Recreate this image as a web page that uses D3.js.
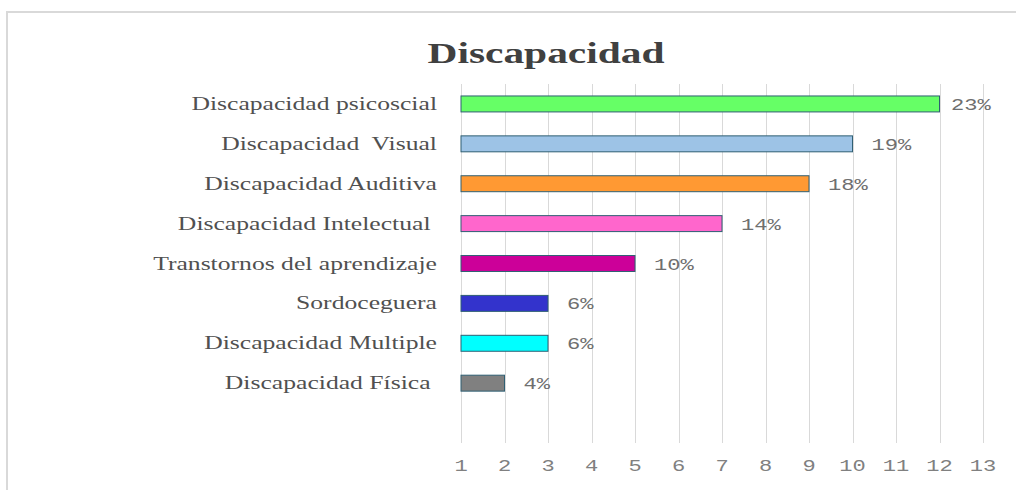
<!DOCTYPE html>
<html>
<head>
<meta charset="utf-8" />
<script src="https://d3js.org/d3.v7.min.js"></script>
<style>
  body { margin: 0; background: #fff; }
  text { white-space: pre; }
</style>
</head>
<body>
<div id="chart"></div>
<script>
  // data
  const categories = [
    "Discapacidad psicoscial",
    "Discapacidad  Visual",
    "Discapacidad Auditiva",
    "Discapacidad Intelectual ",
    "Transtornos del aprendizaje",
    "Sordoceguera",
    "Discapacidad Multiple",
    "Discapacidad Física "
  ];
  const values = [12, 10, 9, 7, 5, 3, 3, 2];
  const percentLabels = ["23%", "19%", "18%", "14%", "10%", "6%", "6%", "4%"];
  const colors = ["#66ff66", "#9dc3e6", "#ff9933", "#ff66cc", "#cc0099", "#3333cc", "#00ffff", "#808080"];
  const ticks = [1, 2, 3, 4, 5, 6, 7, 8, 9, 10, 11, 12, 13];

  const width = 1016, height = 490;
  const stretch = 1.35; // the picture's text looks stretched sideways

  const svg = d3.select("#chart").append("svg")
    .attr("width", width)
    .attr("height", height);

  // chart frame
  svg.append("rect")
    .attr("x", 7).attr("y", 12)
    .attr("width", width + 10).attr("height", height)
    .attr("fill", "none")
    .attr("stroke", "#d9d9d9")
    .attr("stroke-width", 2);

  const x = d3.scaleLinear().domain([1, 13]).range([461, 983]);
  const plotTop = 84, plotBottom = 443;
  const y = d3.scaleBand()
    .domain(categories)
    .range([plotTop, plotTop + (plotBottom - plotTop) * 8 / 9])
    .paddingInner(0.6)
    .paddingOuter(0.3);

  // gridlines
  svg.append("g")
    .selectAll("line")
    .data(ticks)
    .join("line")
      .attr("x1", d => Math.round(x(d)) + 0.5)
      .attr("x2", d => Math.round(x(d)) + 0.5)
      .attr("y1", plotTop)
      .attr("y2", plotBottom)
      .attr("stroke", "#d9d9d9")
      .attr("stroke-width", 1);

  // tick labels
  svg.append("g")
    .selectAll("text")
    .data(ticks)
    .join("text")
      .attr("transform", d => `translate(${x(d)},471) scale(1.3,1)`)
      .attr("text-anchor", "middle")
      .style("font-family", "'Liberation Mono', 'DejaVu Sans Mono', monospace")
      .style("font-size", "17px")
      .style("fill", "#808080")
      .text(d => d);

  const rows = categories.map((c, i) => ({ name: c, value: values[i], label: percentLabels[i], color: colors[i] }));

  // bars
  svg.append("g")
    .selectAll("rect")
    .data(rows)
    .join("rect")
      .attr("x", x(1))
      .attr("y", d => y(d.name))
      .attr("width", d => x(d.value) - x(1))
      .attr("height", y.bandwidth())
      .attr("fill", d => d.color)
      .attr("stroke", "#2f5f73")
      .attr("stroke-width", 1);

  // category labels
  svg.append("g")
    .selectAll("text")
    .data(rows)
    .join("text")
      .attr("transform", d => `translate(437,${y(d.name) + y.bandwidth() / 2 + 6}) scale(${stretch},1)`)
      .attr("text-anchor", "end")
      .style("font-family", "'Liberation Serif', 'Times New Roman', serif")
      .style("font-size", "19px")
      .style("fill", "#505050")
      .text(d => d.name);

  // value labels (pulled in near the right edge)
  svg.append("g")
    .selectAll("text")
    .data(rows)
    .join("text")
      .attr("transform", d => `translate(${Math.min(x(d.value) + 19, 951)},${y(d.name) + y.bandwidth() / 2 + 6}) scale(1.3,1)`)
      .style("font-family", "'Liberation Mono', 'DejaVu Sans Mono', monospace")
      .style("font-size", "17px")
      .style("fill", "#6f6f6f")
      .text(d => d.label);

  // title
  svg.append("text")
    .attr("transform", `translate(546,63) scale(1.38,1)`)
    .attr("text-anchor", "middle")
    .style("font-family", "'Liberation Serif', 'Times New Roman', serif")
    .style("font-weight", "bold")
    .style("font-size", "30px")
    .style("fill", "#404040")
    .text("Discapacidad");
</script>
</body>
</html>
